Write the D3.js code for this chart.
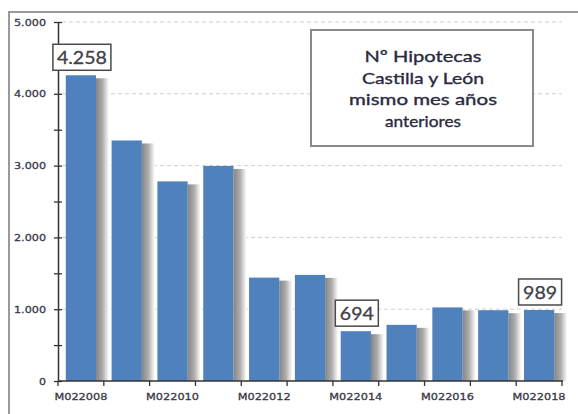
<!DOCTYPE html>
<html>
<head>
<meta charset="utf-8">
<script src="https://cdn.jsdelivr.net/npm/d3@7"></script>
<style>
  body { margin: 0; background: #fff; }
  svg { display: block; }
</style>
</head>
<body>
<svg id="chart" width="578" height="414"></svg>
<script>
// datos
let periods = ['M022008','M022009','M022010','M022011','M022012','M022013','M022014','M022015','M022016','M022017','M022018'];
let values = [4258, 3350, 2780, 2995, 1440, 1478, 694, 782, 1025, 986, 989];
let shownLabels = ['M022008','M022010','M022012','M022014','M022016','M022018'];
let callouts = ['M022008','M022014','M022018'];
let yTicks = [0, 1000, 2000, 3000, 4000, 5000];
let titleLines = ['Nº Hipotecas', 'Castilla y León', 'mismo mes años', 'anteriores'];

let svg = d3.select('#chart');
let fmt = (v) => d3.format(',')(v).replace(/,/g, '.');

let x = d3.scaleBand()
  .domain(periods)
  .range([58, 562])
  .paddingInner(0.34)
  .paddingOuter(0.17);

let y = d3.scaleLinear().domain([0, 5000]).range([381, 22]);

// gradiente para la sombra de las barras
let defs = svg.append('defs');
let grad = defs.append('linearGradient').attr('id', 'shadow');
grad.append('stop').attr('offset', '0%').attr('stop-color', '#858585');
grad.append('stop').attr('offset', '50%').attr('stop-color', '#adadad');
grad.append('stop').attr('offset', '100%').attr('stop-color', '#ffffff');

// marco exterior
svg.append('rect')
  .attr('x', 9).attr('y', 12)
  .attr('width', 620).attr('height', 500)
  .attr('fill', 'none')
  .attr('stroke', '#9a9a9a')
  .attr('stroke-width', 2);

// lineas de cuadricula
svg.selectAll('.grid')
  .data(yTicks.filter(d => d > 0))
  .enter()
  .append('line')
  .attr('x1', 62).attr('x2', 562)
  .attr('y1', d => y(d)).attr('y2', d => y(d))
  .attr('stroke', '#cfcfcf')
  .attr('stroke-dasharray', '4,3');

// sombras
svg.selectAll('.shadow')
  .data(values)
  .enter()
  .append('rect')
  .attr('x', (d, i) => x(periods[i]) + x.bandwidth())
  .attr('y', d => y(d) + 3)
  .attr('width', 13)
  .attr('height', d => y(0) - y(d) - 3)
  .attr('fill', 'url(#shadow)');

// barras
svg.selectAll('.bar')
  .data(values)
  .enter()
  .append('rect')
  .attr('x', (d, i) => x(periods[i]))
  .attr('y', d => y(d))
  .attr('width', x.bandwidth())
  .attr('height', d => y(0) - y(d))
  .attr('fill', '#4f81bd');

// eje Y
let yAxis = d3.axisLeft(y)
  .tickValues(d3.range(0, 5001, 500))
  .tickSizeInner(4).tickSizeOuter(0)
  .tickFormat('');
let gy = svg.append('g').attr('transform', 'translate(58,0)').call(yAxis);
gy.select('.domain').attr('stroke', '#333').attr('stroke-width', 1.5);
gy.selectAll('.tick line').attr('x2', -4).attr('x1', 4).attr('stroke', '#333').attr('stroke-width', 1.3);

svg.selectAll('.ylab')
  .data(yTicks)
  .enter()
  .append('text')
  .attr('x', 46)
  .attr('y', d => y(d) + 3.5)
  .attr('text-anchor', 'end')
  .attr('font-family', 'DejaVu Sans')
  .attr('font-size', 9.5)
  .attr('fill', '#3a3a48')
  .attr('stroke', '#3a3a48')
  .attr('stroke-width', 0.3)
  .attr('textLength', d => d === 0 ? 7 : 32)
  .attr('lengthAdjust', 'spacingAndGlyphs')
  .text(d => fmt(d));

// eje X
let step = x.step();
let bounds = periods.map(p => x(p) - step * x.paddingInner() / 2).concat([562]);
svg.append('line')
  .attr('x1', 58).attr('x2', 563)
  .attr('y1', y(0)).attr('y2', y(0))
  .attr('stroke', '#333').attr('stroke-width', 1.5);
svg.selectAll('.xtick')
  .data(bounds)
  .enter()
  .append('line')
  .attr('x1', d => d).attr('x2', d => d)
  .attr('y1', y(0)).attr('y2', y(0) + 5)
  .attr('stroke', '#333').attr('stroke-width', 1.3);

svg.selectAll('.xlab')
  .data(shownLabels)
  .enter()
  .append('text')
  .attr('x', d => x(d) + x.bandwidth() / 2)
  .attr('y', 400)
  .attr('text-anchor', 'middle')
  .attr('font-family', 'DejaVu Sans')
  .attr('font-size', 9.5)
  .attr('fill', '#3a3a48')
  .attr('stroke', '#3a3a48')
  .attr('stroke-width', 0.3)
  .attr('textLength', 53)
  .attr('lengthAdjust', 'spacingAndGlyphs')
  .text(d => d);

// etiquetas de valor
let calls = svg.selectAll('.call')
  .data(callouts)
  .enter()
  .append('g');
calls.each(function(p) {
  let v = values[periods.indexOf(p)];
  let txt = fmt(v);
  let w = txt.length > 3 ? 58 : 43;
  let cx = x(p) + x.bandwidth() / 2 + 1;
  let top = y(v) - 31;
  let g = d3.select(this);
  g.append('rect')
    .attr('x', cx - w / 2).attr('y', top)
    .attr('width', w).attr('height', 26)
    .attr('fill', '#fff')
    .attr('stroke', '#4a4a4a')
    .attr('stroke-width', 1.5);
  g.append('text')
    .attr('x', cx).attr('y', top + 20)
    .attr('text-anchor', 'middle')
    .attr('font-family', 'Lato')
    .attr('font-size', 17)
    .attr('fill', '#404048')
    .attr('stroke', '#404048')
    .attr('stroke-width', 0.3)
    .attr('textLength', txt.length > 3 ? 50 : 34)
    .attr('lengthAdjust', 'spacingAndGlyphs')
    .text(txt);
});

// cuadro de titulo
svg.append('rect')
  .attr('x', 311).attr('y', 30)
  .attr('width', 222).attr('height', 116)
  .attr('fill', '#fff')
  .attr('stroke', '#8a8a8a')
  .attr('stroke-width', 2);
let titleWidths = [117, 122, 148, 76];
svg.selectAll('.title')
  .data(titleLines)
  .enter()
  .append('text')
  .attr('x', 423)
  .attr('y', (d, i) => 62 + i * 21.5)
  .attr('text-anchor', 'middle')
  .attr('font-family', 'Lato')
  .attr('font-size', 16)
  .attr('fill', '#2a2a40')
  .attr('stroke', '#2a2a40')
  .attr('stroke-width', 0.35)
  .attr('textLength', (d, i) => titleWidths[i])
  .attr('lengthAdjust', 'spacingAndGlyphs')
  .text(d => d);
</script>
</body>
</html>
